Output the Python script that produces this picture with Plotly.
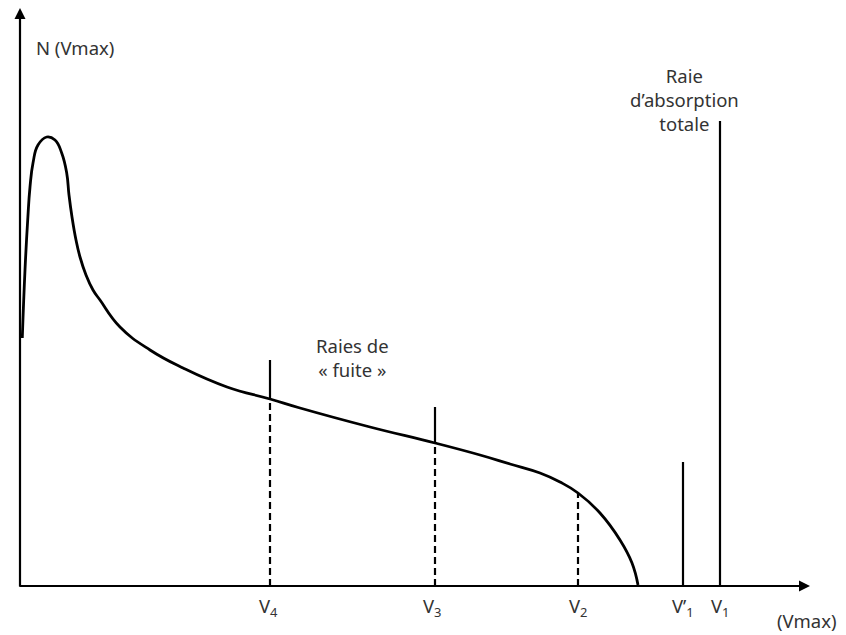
import plotly.graph_objects as go

# Data (units: abstract channel / count units)
curve_x = [2.3, 5, 7.7, 10, 13, 18, 26.7, 35, 41.7, 46.7, 49, 52, 56, 60, 66, 73, 80, 100, 130, 163, 207, 250, 280,
           350, 415, 460, 490, 520, 540, 558, 580, 600, 612, 618]
curve_y = [248, 316, 366, 399, 423, 441, 449, 446, 433, 413, 391, 369, 346, 329, 311, 296, 286, 259, 236, 218, 199,
           187, 178, 159, 143, 131, 122, 113, 104, 93, 73, 46, 23, 1]

leak_x = [250, 415, 558]          # V4, V3, V2
leak_top = [226, 179, None]        # top of solid escape lines
leak_curve = [187, 143, 93]        # curve height at each line
other_x = [663, 700]               # V'1, V1
other_top = [124, 465]

tick_x = [248, 412, 558, 663, 700]
tick_labels = ["V<sub>4</sub>", "V<sub>3</sub>", "V<sub>2</sub>", "V’<sub>1</sub>", "V<sub>1</sub>"]

font = dict(family="Noto Sans, Open Sans, sans-serif", size=18.5, color="#333333")

fig = go.Figure()
fig.add_trace(go.Scatter(x=curve_x, y=curve_y, mode="lines",
                         line=dict(color="black", width=2.8, shape="spline", smoothing=1.3),
                         hoverinfo="skip", showlegend=False))

for x, top, cy in zip(leak_x, leak_top, leak_curve):
    fig.add_trace(go.Scatter(x=[x, x], y=[0, cy], mode="lines",
                             line=dict(color="black", width=2.2, dash="7px,4px"),
                             hoverinfo="skip", showlegend=False))
    if top is not None:
        fig.add_trace(go.Scatter(x=[x, x], y=[cy, top], mode="lines",
                                 line=dict(color="black", width=2.2),
                                 hoverinfo="skip", showlegend=False))

for x, top in zip(other_x, other_top):
    fig.add_trace(go.Scatter(x=[x, x], y=[0, top], mode="lines",
                             line=dict(color="black", width=2.2),
                             hoverinfo="skip", showlegend=False))

# Axes with arrows
fig.add_annotation(x=790, y=0, ax=-2, ay=0, xref="x", yref="y", axref="x", ayref="y",
                   showarrow=True, arrowhead=2, arrowsize=1, arrowwidth=2.2, arrowcolor="black", text="")
fig.add_annotation(x=0, y=578, ax=0, ay=-2, xref="x", yref="y", axref="x", ayref="y",
                   showarrow=True, arrowhead=2, arrowsize=1, arrowwidth=2.2, arrowcolor="black", text="")

for x, lab in zip(tick_x, tick_labels):
    fig.add_annotation(x=x, y=-21, text=lab, showarrow=False, font=font, xanchor="center", yanchor="middle")

fig.add_annotation(x=786, y=-34, text="(Vmax)", showarrow=False, font=font, xanchor="center", yanchor="middle")
fig.add_annotation(x=14, y=539, text="N (Vmax)", showarrow=False, font=font, xanchor="left", yanchor="middle")
fig.add_annotation(x=664, y=487, text="Raie<br>d’absorption<br>totale", showarrow=False, font=font,
                   xanchor="center", yanchor="middle", align="center")
fig.add_annotation(x=332, y=229, text="Raies de<br>« fuite »", showarrow=False, font=font,
                   xanchor="center", yanchor="middle", align="center")

fig.update_layout(width=846, height=635, margin=dict(l=0, r=0, t=0, b=0),
                  plot_bgcolor="white", paper_bgcolor="white",
                  xaxis=dict(range=[-20, 826], visible=False, fixedrange=True),
                  yaxis=dict(range=[-49, 586], visible=False, fixedrange=True))

fig.write_html("out.html")
